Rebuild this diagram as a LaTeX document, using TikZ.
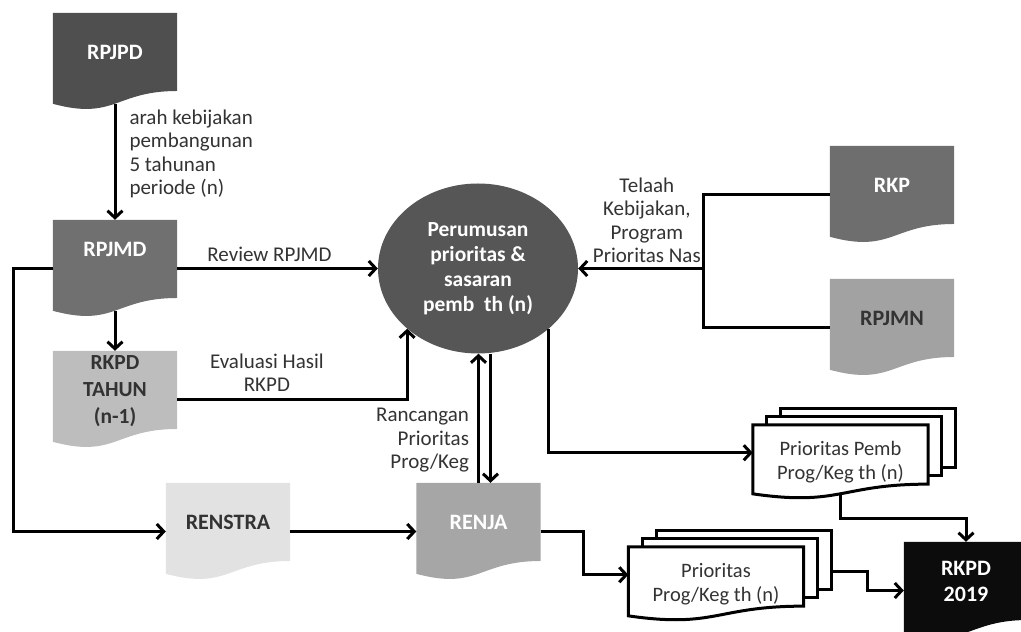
\documentclass[tikz,border=0pt]{standalone}
\usepackage{fontspec}
\setmainfont{Carlito}
\usetikzlibrary{positioning,arrows.meta,shapes.geometric,backgrounds}
\definecolor{rpjpdgray}{HTML}{4F4F4F}
\definecolor{rpjmdgray}{HTML}{707070}
\definecolor{rkpdtgray}{HTML}{BDBDBD}
\definecolor{renstragray}{HTML}{E2E2E2}
\definecolor{renjagray}{HTML}{A6A6A6}
\definecolor{rkpgray}{HTML}{6E6E6E}
\definecolor{rpjmngray}{HTML}{A2A2A2}
\definecolor{circgray}{HTML}{565656}
\definecolor{rkpdblack}{HTML}{0C0C0C}
\definecolor{darktext}{HTML}{333333}
\tikzset{docbox/.style={minimum width=124pt, minimum height=97pt, inner sep=0pt, align=center, text depth=19pt, font=\bfseries\fontsize{22}{26}\selectfont},
  stackbox/.style={minimum width=175pt, minimum height=73.5pt, inner sep=0pt, align=center, text=darktext, font=\fontsize{20.5}{24}\selectfont},
  lbl/.style={text=darktext, inner sep=2pt, font=\fontsize{21}{23.5}\selectfont},
  link/.style={line width=3pt},
  flow/.style={link, -{Straight Barb[length=7pt,width=15pt]}},
  stackline/.style={line width=3pt, draw=black},}
% document shape: flat top, wavy bottom
\newcommand{\docpath}[2]{(#1.north west) -- (#1.north east) -- ([yshift=0.198*#2]#1.south east) .. controls ([yshift=0.198*#2]#1.south) and ([yshift=-0.107*#2]#1.south) .. ([yshift=0.066*#2]#1.south west) -- cycle}

\begin{document}
\begin{tikzpicture}[x=1pt, y=1pt]
\useasboundingbox (0,0) rectangle (1021,632);

\node[docbox, text=white] (rpjpd) at (115,570.5) {RPJPD};
\node[docbox, text=white, text depth=39pt] (rpjmd) at (115,363.5) {RPJMD};
\node[docbox, text=darktext, text depth=20pt, font=\bfseries\fontsize{21.5}{27}\selectfont] (rkpdthn) at (115,232.5) {RKPD\\TAHUN\\(n-1)};
\node[docbox, text=darktext] (renstra) at (228,100.5) {RENSTRA};
\node[docbox, text=white] (renja) at (478.5,100.5) {RENJA};
\node[docbox, text=white] (rkp) at (892,437.5) {RKP};
\node[docbox, text=darktext] (rpjmn) at (892,304.5) {RPJMN};
\node[docbox, text=white] (rkpd19) at (966,41.5) {RKPD\\2019};
\node[ellipse, fill=circgray, minimum width=200pt, minimum height=170pt, inner sep=0pt, align=center, text=white, font=\bfseries\fontsize{21.5}{25}\selectfont] (circ) at (478,363.5) {Perumusan\\prioritas \&\\sasaran\\pemb\ \ th (n)};
\node[stackbox] (prio1) at (840.5,170.25) {Prioritas Pemb\\Prog/Keg th (n)};
\node[stackbox] (prio2) at (716,48.25) {Prioritas\\Prog/Keg th (n)};
\coordinate (jn) at (703,363.5);

\begin{scope}[on background layer]
\foreach \n/\c in {rpjpd/rpjpdgray, rpjmd/rpjmdgray, rkpdthn/rkpdtgray, renstra/renstragray, renja/renjagray, rkp/rkpgray, rpjmn/rpjmngray, rkpd19/rkpdblack}
  \fill[\c] \docpath{\n}{97};
\foreach \n in {prio1,prio2}{
  \foreach \k in {2,1}
    \filldraw[stackline, fill=white] ([shift={(14*\k,8*\k)}]\n.north west) rectangle ++(175,-59);
  \filldraw[stackline, fill=white] \docpath{\n}{73.5};
}
\end{scope}

\draw[flow] ([yshift=6pt]rpjpd.south) -- node[lbl, right=11pt, pos=0.43, align=left] (lblarah) {arah kebijakan\\pembangunan\\5 tahunan\\periode (n)} (rpjmd.north);
\draw[flow] (rpjmd.east) -- node[lbl, above, pos=0.46, yshift=3pt] (lblreview) {Review RPJMD} (circ.west);
\draw[flow] (rpjmd.west) -- ++(-39,0) |- (renstra.west);
\draw[flow] ([yshift=6pt]rpjmd.south) -- (rkpdthn.north);
\draw[flow] (rkpdthn.east) -| node[lbl, above, pos=0.195, yshift=4pt, align=center] (lbleval) {Evaluasi Hasil\\RKPD} (circ.south west);
\draw[flow] (renja.north) -- node[lbl, left=6pt, pos=0.33, align=right] (lblrancang) {Rancangan\\Prioritas\\Prog/Keg} (renja.north |- circ.south);
\draw[flow] ([xshift=12pt]renja.north |- circ.south) -- ([xshift=12pt]renja.north);
\draw[link] (rkp.west) -| (jn) |- (rpjmn.west);
\draw[flow] (jn) -- node[lbl, above, pos=0.45, yshift=2pt, align=center] (lbltelaah) {Telaah\\Kebijakan,\\Program\\Prioritas Nas} (circ.east);
\draw[flow] (renstra.east) -- (renja.west);
\draw[flow] (circ.south east) |- ([yshift=9pt]prio1.west);
\draw[flow] (renja.east) -- ++(43,0) |- ([yshift=9pt]prio2.west);
\draw[flow] ([yshift=4pt]prio1.south) -- ++(0,-23.5) -| (rkpd19.north);
\draw[flow] ([xshift=27pt,yshift=12pt]prio2.east) -- ++(37,0) |- (rkpd19.west);
\end{tikzpicture}
\end{document}
